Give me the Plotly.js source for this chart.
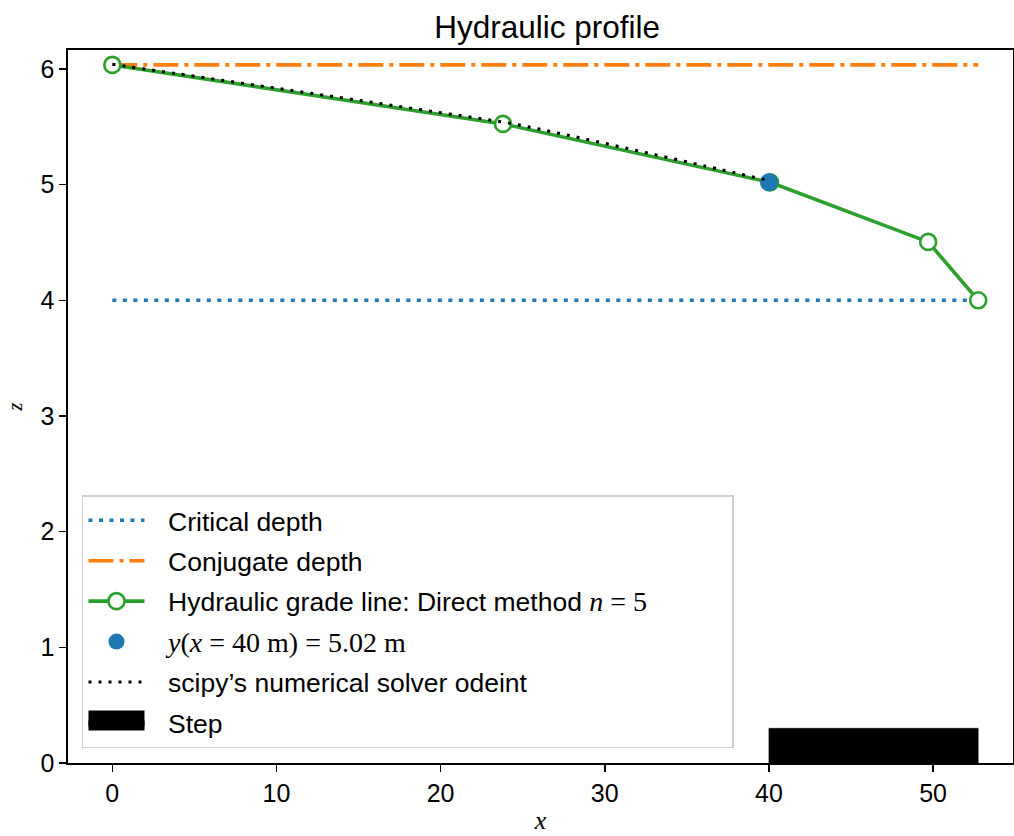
<!DOCTYPE html>
<html><head><meta charset="utf-8">
<script src="https://cdn.plot.ly/plotly-3.0.1.min.js"></script>
<style>html,body{margin:0;padding:0;background:#fff}#chart{width:1014px;height:836px}</style>
</head><body><div id="chart"></div>
<script>
// Data
const hglX = [0, 23.8, 40.07, 49.7, 52.75];
const hglY = [6.035, 5.525, 5.02, 4.505, 4.0];
const criticalX = [0, 52.75];
const criticalY = [4.0, 4.0];
const conjugateX = [0, 52.75];
const conjugateY = [6.035, 6.035];
const pointX = [40];
const pointY = [5.02];
const odeX = [0, 4, 8, 12, 16, 20, 24, 28, 32, 36, 40];
const odeY = [6.040, 5.958, 5.875, 5.792, 5.708, 5.622, 5.536, 5.420, 5.293, 5.165, 5.035];
const stepStart = 40, stepEnd = 52.75, stepHeight = 0.3;
const xTicks = [0, 10, 20, 30, 40, 50];
const yTicks = [0, 1, 2, 3, 4, 5, 6];

const SERIF = "'Liberation Serif', 'DejaVu Serif', serif";
const SANS = "'Liberation Sans', Arial, sans-serif";
const GAP = '\u2002\u2009';
const TAIL = '\u2002\u2002\u2002\u2002\u2002\u2002';
const math = (s) => '<span style="font-family:Liberation Serif;font-size:28px">' + s + '</span>';

const traces = [
  {x: criticalX, y: criticalY, mode: 'lines', name: GAP + 'Critical depth', legendgroup: 'a',
   line: {color: '#1f77b4', width: 3.6, dash: '4px,6.5px'}},
  {x: conjugateX, y: conjugateY, mode: 'lines', name: GAP + 'Conjugate depth', legendgroup: 'b',
   line: {color: '#ff7f0e', width: 3.6, dash: '25px,6px,4px,6px'}},
  {x: hglX, y: hglY, mode: 'lines+markers', legendgroup: 'c',
   name: GAP + 'Hydraulic grade line: Direct method ' + math('<i>n</i> = 5') + TAIL,
   line: {color: '#2ca02c', width: 3.6},
   marker: {symbol: 'circle', size: 16, color: '#ffffff', line: {color: '#2ca02c', width: 2.6}}},
  {x: pointX, y: pointY, mode: 'markers', legendgroup: 'd',
   name: GAP + math('<i>y</i>(<i>x</i> = 40 m) = 5.02 m'),
   marker: {symbol: 'circle', size: 18, color: '#1f77b4'}},
  {x: odeX, y: odeY, mode: 'lines', name: GAP + 'scipy\u2019s numerical solver odeint', legendgroup: 'e',
   line: {color: '#000000', width: 3, dash: '3px,7px', shape: 'spline'}},
  {x: [stepStart, stepEnd, stepEnd, stepStart, stepStart],
   y: [0, 0, stepHeight, stepHeight, 0],
   mode: 'lines', fill: 'toself', fillcolor: '#000000', name: GAP + 'Step', legendgroup: 'f',
   line: {color: '#000000', width: 0.5}}
];

const layout = {
  width: 1014, height: 836,
  margin: {l: 68, r: 1, t: 50, b: 73},
  paper_bgcolor: '#ffffff', plot_bgcolor: '#ffffff',
  showlegend: true,
  title: {text: 'Hydraulic profile', font: {family: SANS, size: 31.5, color: '#000'},
          x: 0.507, xref: 'paper', xanchor: 'center', y: 0.968, yanchor: 'middle'},
  xaxis: {range: [-2.7, 54.87], tickvals: xTicks, ticktext: xTicks.map(String),
          showgrid: false, zeroline: false, showline: true, mirror: true,
          linecolor: '#000', linewidth: 1.6, ticks: 'outside', ticklen: 7, tickwidth: 1.6,
          tickcolor: '#000', tickfont: {family: SANS, size: 25, color: '#000'},
          title: {text: '<i>x</i>', font: {family: SERIF, size: 26, color: '#000'}, standoff: 5}},
  yaxis: {range: [0, 6.164], tickvals: yTicks, ticktext: yTicks.map(String),
          showgrid: false, zeroline: false, showline: true, mirror: true,
          linecolor: '#000', linewidth: 1.6, ticks: 'outside', ticklen: 7, tickwidth: 1.6,
          tickcolor: '#000', tickfont: {family: SANS, size: 25, color: '#000'},
          title: {text: '<i>z</i>', font: {family: SERIF, size: 20, color: '#000'}, standoff: 12}},
  legend: {x: 0.0148, y: 0.021, xanchor: 'left', yanchor: 'bottom',
           bgcolor: 'rgba(255,255,255,0.85)', bordercolor: '#d0d0d0', borderwidth: 1.5,
           font: {family: SANS, size: 26.5, color: '#000'},
           traceorder: 'grouped', tracegroupgap: 3, itemwidth: 56}
};

Plotly.newPlot('chart', traces, layout, {displayModeBar: false, staticPlot: true}).then(function (gd) {
  // widen the legend swatch of the Step patch into a filled box
  const items = gd.querySelectorAll('.legend .traces');
  items.forEach(function (it) {
    const txt = it.querySelector('.legendtext');
    if (txt && txt.textContent.indexOf('Step') >= 0) {
      it.querySelectorAll('.legendlines path').forEach(function (p) {
        p.style.strokeWidth = '20px';
        p.style.strokeLinecap = 'butt';
      });
    }
  });
});
</script></body></html>
